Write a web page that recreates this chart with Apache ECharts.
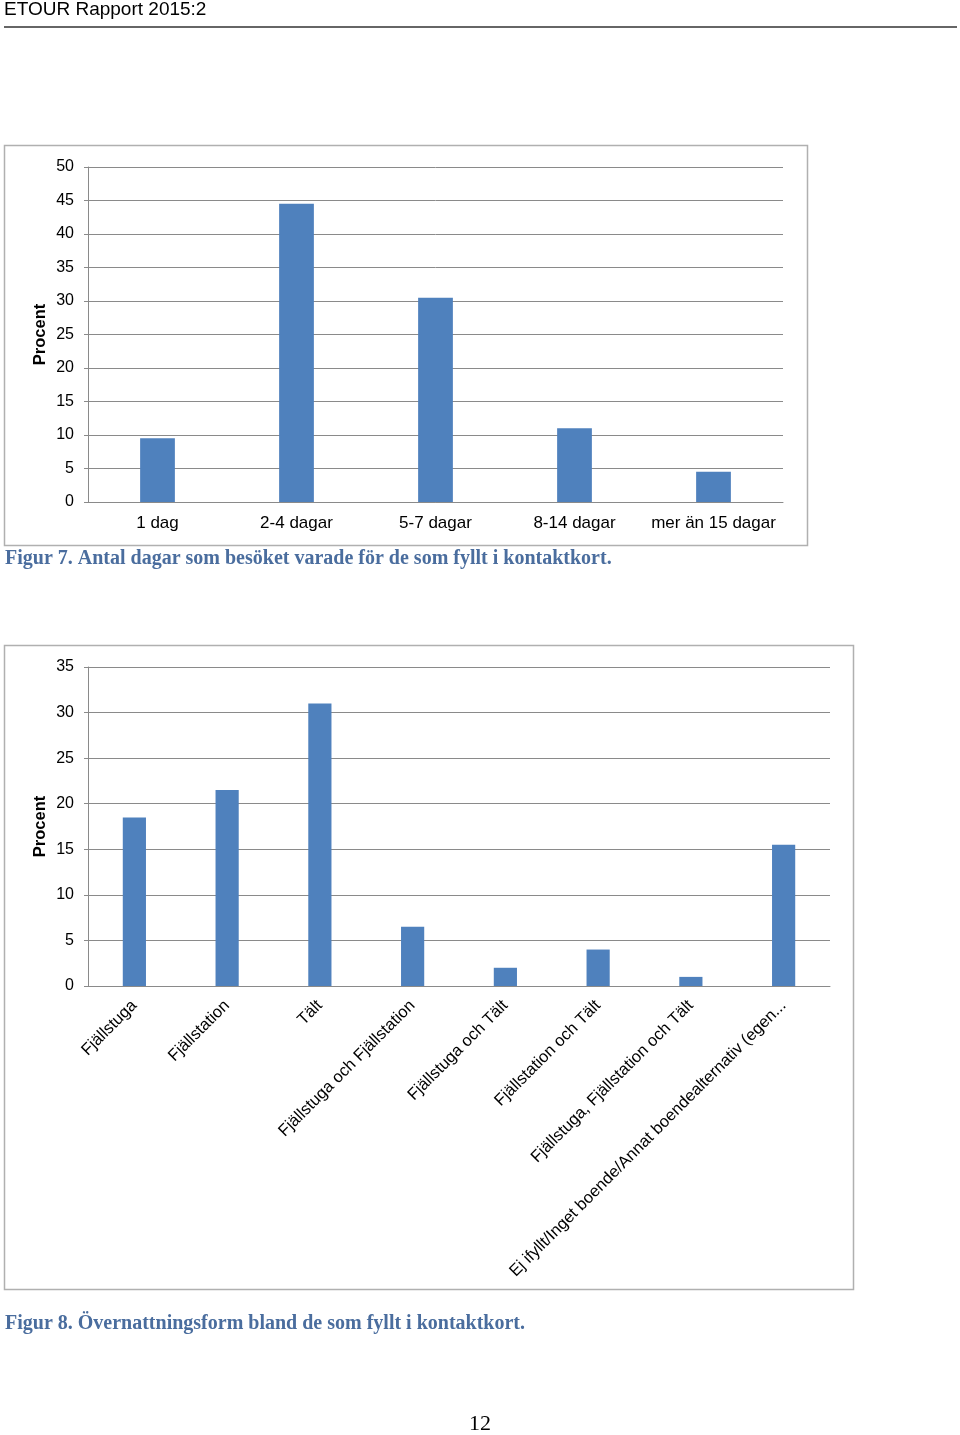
<!DOCTYPE html>
<html>
<head>
<meta charset="utf-8">
<script src="https://cdn.jsdelivr.net/npm/echarts@6/dist/echarts.min.js"></script>
<style>
html,body{margin:0;padding:0;background:#fff;}
#c{width:960px;height:1435px;}
</style>
</head>
<body>
<div id="c"></div>
<script>
// Figur 7 data
var daysCategories = ['1 dag', '2-4 dagar', '5-7 dagar', '8-14 dagar', 'mer än 15 dagar'];
var daysValues = [9.5, 44.5, 30.5, 11, 4.5];
var daysTicks = [0, 5, 10, 15, 20, 25, 30, 35, 40, 45, 50];

// Figur 8 data
var stayCategories = ['Fjällstuga', 'Fjällstation', 'Tält', 'Fjällstuga och Fjällstation',
  'Fjällstuga och Tält', 'Fjällstation och Tält', 'Fjällstuga, Fjällstation och Tält',
  'Ej ifyllt/Inget boende/Annat boendealternativ (egen...'];
var stayValues = [18.5, 21.5, 31, 6.5, 2, 4, 1, 15.5];
var stayTicks = [0, 5, 10, 15, 20, 25, 30, 35];

var headerText = 'ETOUR Rapport 2015:2';
var caption7 = 'Figur 7. Antal dagar som besöket varade för de som fyllt i kontaktkort.';
var caption8 = 'Figur 8. Övernattningsform bland de som fyllt i kontaktkort.';
var pageNumber = '12';

var SANS = '"Liberation Sans", Arial, sans-serif';
var SERIF = '"Liberation Serif", "DejaVu Serif", serif';
var BAR = '#4F81BD';
var GRID = '#8a8a8a';
var CAP = '#4a6d9e';

function yAxis(idx, ticks) {
  return {
    type: 'value', gridIndex: idx,
    min: ticks[0], max: ticks[ticks.length - 1], interval: ticks[1] - ticks[0],
    name: 'Procent', nameLocation: 'middle', nameRotate: 90, nameGap: 39,
    nameMoveOverlap: false,
    nameTextStyle: { fontFamily: SANS, fontWeight: 'bold', fontSize: 16.5, color: '#000' },
    axisLine: { show: true, lineStyle: { color: GRID, width: 1 } },
    axisTick: { show: true, length: 4, lineStyle: { color: GRID } },
    axisLabel: { fontFamily: SANS, fontSize: 16, color: '#000', margin: 14 },
    splitLine: { show: true, lineStyle: { color: GRID, width: 1 } }
  };
}

var chart = echarts.init(document.getElementById('c'), null, { renderer: 'canvas' });
chart.setOption({
  animation: false,
  backgroundColor: '#fff',
  graphic: [
    { type: 'text', x: 4, y: 10, style: { text: headerText, font: '19px ' + SANS, fill: '#000', verticalAlign: 'middle' } },
    { type: 'line', shape: { x1: 4, y1: 27, x2: 957, y2: 27 }, style: { stroke: '#333', lineWidth: 1.5 } },
    { type: 'rect', shape: { x: 4.5, y: 145.5, width: 803, height: 400 }, style: { fill: 'none', stroke: '#b0b0b0', lineWidth: 1.5 }, z: -1 },
    { type: 'text', x: 5, y: 559, style: { text: caption7, font: 'bold 20px ' + SERIF, fill: CAP, verticalAlign: 'middle' } },
    { type: 'rect', shape: { x: 4.5, y: 645.5, width: 849, height: 644 }, style: { fill: 'none', stroke: '#b0b0b0', lineWidth: 1.5 }, z: -1 },
    { type: 'text', x: 5, y: 1324, style: { text: caption8, font: 'bold 20px ' + SERIF, fill: CAP, verticalAlign: 'middle' } },
    { type: 'text', x: 480, y: 1424, style: { text: pageNumber, font: '22px ' + SERIF, fill: '#000', align: 'center', verticalAlign: 'middle' } }
  ],
  grid: [
    { left: 88, top: 167, width: 695, height: 335, containLabel: false },
    { left: 88, top: 667, width: 742, height: 319, containLabel: false }
  ],
  xAxis: [
    {
      type: 'category', gridIndex: 0, data: daysCategories,
      axisLine: { lineStyle: { color: GRID } },
      axisTick: { show: false },
      axisLabel: { fontFamily: SANS, fontSize: 17, color: '#000', margin: 13, interval: 0 }
    },
    {
      type: 'category', gridIndex: 1, data: stayCategories,
      axisLine: { lineStyle: { color: GRID } },
      axisTick: { show: false },
      axisLabel: { fontFamily: SANS, fontSize: 16.5, color: '#000', margin: 17, interval: 0, rotate: 45 }
    }
  ],
  yAxis: [yAxis(0, daysTicks), yAxis(1, stayTicks)],
  series: [
    { type: 'bar', xAxisIndex: 0, yAxisIndex: 0, data: daysValues, barWidth: '25%', itemStyle: { color: BAR } },
    { type: 'bar', xAxisIndex: 1, yAxisIndex: 1, data: stayValues, barWidth: '25%', itemStyle: { color: BAR } }
  ]
});
</script>
</body>
</html>
